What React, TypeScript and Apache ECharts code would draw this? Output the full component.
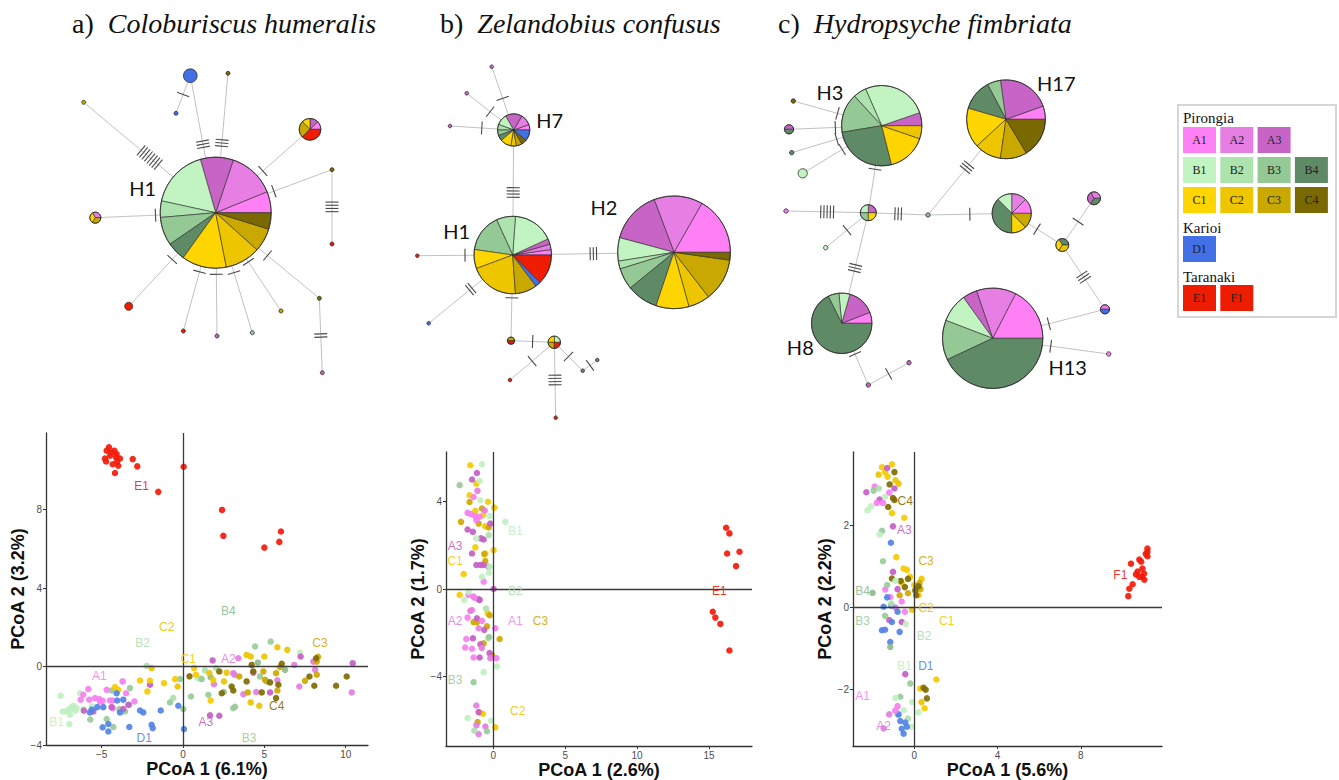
import React, { useEffect, useRef } from "react";
import * as echarts from "echarts";

type Pt = [number, number, string];
type Node = [string, number, number, Record<string, number>];
type Edge = [string, string, number];

// ---------------- populations ----------------
const POPS = ["A1", "A2", "A3", "B1", "B2", "B3", "B4", "C1", "C2", "C3", "C4", "D1", "E1", "F1"];
const POP_COLORS = ["#ff7ff5", "#e67ee4", "#c864c6", "#c2f4c2", "#ade3ad", "#94c894", "#5f8a66", "#ffd500", "#edc600", "#c9a800", "#7a6800", "#4470e6", "#ee1c00", "#ee1c00"];
const PCOA_COLORS = ["#f77ff0", "#e47de2", "#c45fc4", "#c0f0c0", "#aee0ae", "#9acb9a", "#8cbc8c", "#f7ca00", "#ecc300", "#cfa800", "#7f6c00", "#5283e6", "#f41a0a", "#f41a0a"];
const colorOf = (p: string) => POP_COLORS[POPS.indexOf(p)];
const pcoaColorOf = (p: string) => PCOA_COLORS[POPS.indexOf(p)];

const LEGEND_GROUPS = ["Pirongia", "Karioi", "Taranaki"];
const LEGEND_ROWS = [["A1", "A2", "A3"], ["B1", "B2", "B3", "B4"], ["C1", "C2", "C3", "C4"], ["D1"], ["E1", "F1"]];

// ---------------- panel texts ----------------
const PANEL_LETTERS = ["a)", "b)", "c)"];
const SPECIES = ["Coloburiscus humeralis", "Zelandobius confusus", "Hydropsyche fimbriata"];
const PCOA1 = ["PCoA 1 (6.1%)", "PCoA 1 (2.6%)", "PCoA 1 (5.6%)"];
const PCOA2 = ["PCoA 2 (3.2%)", "PCoA 2 (1.7%)", "PCoA 2 (2.2%)"];
const X_TICKS = [[-5, 0, 5, 10], [0, 5, 10, 15], [0, 4, 8]];
const Y_TICKS = [[-4, 0, 4, 8], [-4, 0, 4], [-2, 0, 2]];
const X_RANGE = [[-8.42, 11.37], [-3.29, 17.99], [-2.94, 11.9]];
const Y_RANGE = [[-4, 11.9], [-7.2, 6.28], [-3.37, 3.79]];

// ---------------- PCoA a) ----------------
const pcoaA: Pt[] = [
  [-4.55, 11.17, "E1"], [-4.69, 11.0, "E1"], [-4.22, 11.0, "E1"], [-4.08, 10.83, "E1"], [-4.8, 10.6, "E1"], [-4.49, 10.74, "E1"], [-4.12, 10.66, "E1"], [-3.87, 10.6, "E1"], [-4.73, 10.45, "E1"], [-4.32, 10.31, "E1"], [-3.98, 10.23, "E1"], [-4.18, 9.86, "E1"], [-3.09, 10.57, "E1"], [-2.81, 10.2, "E1"], [-1.52, 8.9, "E1"], [0.04, 10.18, "E1"], [2.4, 7.98, "E1"], [2.48, 6.66, "E1"], [5.0, 6.06, "E1"], [5.92, 6.35, "E1"], [6.02, 6.88, "E1"], [-4.4, 10.9, "E1"], [-4.05, 10.45, "E1"],
  [-7.52, -1.49, "B1"], [-7.05, -2.2, "B1"], [-7.19, -2.29, "B1"], [-6.84, -2.07, "B1"], [-6.74, -2.0, "B1"], [-6.54, -2.12, "B1"], [-6.95, -2.46, "B1"], [-6.33, -1.36, "B1"], [-6.13, -2.17, "B1"], [-6.99, -2.93, "B1"], [-5.61, -2.03, "B1"], [-7.4, -2.29, "B1"], [-6.9, -2.2, "B1"], [-6.6, -2.25, "B1"], [7.19, 0.71, "B1"], [0.9, -0.6, "B1"], [-3.7, -0.75, "B1"],
  [-2.23, 0.03, "B2"], [1.35, -0.2, "B2"], [2.03, -0.08, "B2"], [-0.6, -1.6, "B2"], [1.1, -0.62, "B2"],
  [-4.39, -1.22, "B3"], [-3.26, -1.1, "B3"], [-3.3, -1.95, "B3"], [-3.91, -2.17, "B3"], [-4.28, -3.08, "B3"], [-3.57, -2.29, "B3"], [-0.8, -1.83, "B3"], [0.02, -2.17, "B3"], [0.49, -1.53, "B3"], [-0.18, -0.64, "B3"], [4.43, 1.02, "B3"], [5.39, 1.27, "B3"], [1.15, -0.64, "B3"], [1.56, -1.44, "B3"], [4.73, -0.51, "B3"], [3.09, -2.12, "B3"], [-4.69, -2.68, "B3"], [-5.7, -2.7, "B3"], [3.2, -2.05, "B3"],
  [5.14, -0.76, "B4"], [6.27, -0.17, "B4"], [2.5, -1.3, "B4"], [1.7, -0.55, "B4"], [4.6, 0.2, "B4"],
  [-5.82, -1.15, "A1"], [-6.13, -1.44, "A1"], [-6.29, -1.69, "A1"], [-5.76, -1.69, "A1"], [-5.41, -1.61, "A1"], [-5.14, -1.66, "A1"], [-4.94, -1.75, "A1"], [-4.69, -1.19, "A1"], [-4.49, -1.73, "A1"], [-4.32, -1.73, "A1"], [-3.71, -0.76, "A1"], [-2.99, -1.78, "A1"], [-3.5, -1.36, "A1"], [-4.32, -2.12, "A1"], [-5.1, -1.78, "A1"],
  [3.4, 0.42, "A2"], [3.09, -0.34, "A2"], [3.17, -0.42, "A2"], [8.01, 0.25, "A2"], [6.84, 0.08, "A2"], [10.37, -1.32, "A2"], [7.15, -1.02, "A2"], [8.12, -0.17, "A2"], [3.71, -1.41, "A2"], [4.5, -1.3, "A2"], [5.8, -0.7, "A2"], [1.9, -0.9, "A2"],
  [-6.09, -2.25, "A3"], [-5.51, -2.29, "A3"], [-4.39, -2.07, "A3"], [-3.36, -1.95, "A3"], [-3.67, -2.17, "A3"], [-2.03, -0.93, "A3"], [1.66, -2.49, "A3"], [7.23, 0.51, "A3"], [10.43, 0.17, "A3"], [4.32, -0.31, "A3"], [5.35, -1.32, "A3"], [1.82, 0.31, "A3"], [2.23, -2.51, "A3"],
  [-4.18, -1.05, "C1"], [-3.98, -1.19, "C1"], [-2.64, -0.71, "C1"], [-2.03, -0.71, "C1"], [-2.19, -1.27, "C1"], [-1.17, -0.85, "C1"], [-0.49, -0.64, "C1"], [0.68, -0.08, "C1"], [0.8, -0.42, "C1"], [1.7, -1.73, "C1"], [1.86, -0.68, "C1"],
  [-0.33, -1.02, "C2"], [-1.93, -0.08, "C2"], [3.91, 0.59, "C2"], [4.16, 0.51, "C2"], [5.0, 0.51, "C2"], [5.8, 0.98, "C2"], [6.41, 0.85, "C2"], [1.62, -0.34, "C2"], [2.52, -0.76, "C2"], [2.68, -0.31, "C2"], [4.16, -1.83, "C2"], [4.69, -2.0, "C2"],
  [8.22, 0.25, "C3"], [3.46, -0.51, "C3"], [4.94, -0.25, "C3"], [5.04, -0.68, "C3"], [5.96, -0.03, "C3"], [5.72, -0.34, "C3"], [5.8, -1.22, "C3"], [8.22, -0.42, "C3"], [7.5, -0.73, "C3"], [3.98, -1.32, "C3"], [8.3, 0.5, "C3"],
  [4.22, 0.08, "C4"], [4.32, -0.25, "C4"], [2.99, -1.02, "C4"], [3.09, -1.22, "C4"], [3.91, -0.76, "C4"], [2.38, -1.36, "C4"], [4.84, -1.32, "C4"], [5.35, -0.81, "C4"], [6.07, 0.14, "C4"], [5.86, -0.93, "C4"], [5.72, -1.61, "C4"], [7.77, -0.51, "C4"], [8.07, -0.98, "C4"], [8.18, 0.42, "C4"], [9.41, -0.98, "C4"], [10.06, -0.51, "C4"], [2.23, -0.25, "C4"], [0.4, -0.5, "C4"],
  [-5.61, -2.2, "D1"], [-5.72, -2.34, "D1"], [-5.27, -2.07, "D1"], [-4.9, -2.07, "D1"], [-4.08, -1.36, "D1"], [-4.04, -1.73, "D1"], [-3.67, -1.69, "D1"], [-3.87, -2.34, "D1"], [-2.64, -2.24, "D1"], [-2.44, -2.34, "D1"], [-1.37, -2.24, "D1"], [-0.29, -2.0, "D1"], [-4.94, -3.1, "D1"], [-4.59, -2.93, "D1"], [-4.59, -3.31, "D1"], [-3.3, -3.08, "D1"], [-1.93, -2.97, "D1"], [-1.86, -3.14, "D1"], [0.06, -3.19, "D1"],
];
const labelsA: Pt[] = [
  [-2.54, 9.2, "E1"], [2.79, 2.83, "B4"], [-1.0, 2.0, "C2"], [-2.48, 1.2, "B2"], [0.33, 0.39, "C1"], [2.79, 0.39, "A2"], [8.42, 1.2, "C3"], [-5.14, -0.46, "A1"], [5.76, -2.03, "C4"], [1.41, -2.84, "A3"], [-7.77, -2.84, "B1"], [-2.38, -3.64, "D1"], [4.06, -3.64, "B3"],
];

// ---------------- PCoA b) ----------------
const pcoaB: Pt[] = [
  [16.19, 2.81, "E1"], [16.42, 2.55, "E1"], [16.26, 1.63, "E1"], [17.12, 1.71, "E1"], [16.88, 1.05, "E1"], [15.26, -1.04, "E1"], [15.44, -1.31, "E1"], [15.79, -1.6, "E1"], [16.42, -2.82, "E1"],
  [-1.6, 5.67, "C1"], [-1.65, 4.3, "C1"], [-1.18, 4.83, "C1"], [-0.37, 4.0, "C1"], [0.07, 3.73, "C1"], [-1.25, 3.58, "C1"], [-0.72, 3.38, "C1"], [-0.56, 2.88, "C1"], [0.02, 1.78, "C1"], [-0.56, 1.63, "C1"], [-1.25, 1.91, "C1"], [-2.06, 0.69, "C1"], [-2.34, -0.27, "C1"], [-0.39, -1.11, "C1"], [-0.95, -5.67, "C1"], [0.14, -6.34, "C1"], [-0.72, -5.72, "C1"],
  [-2.25, 3.08, "C3"], [-1.65, 3.99, "C3"], [-0.79, 3.69, "C3"], [-1.02, 3.0, "C3"], [-0.32, 2.82, "C3"], [-0.63, 1.6, "C3"], [-0.56, 1.28, "C3"], [-1.37, -1.52, "C3"], [-1.14, -1.52, "C3"], [-0.44, -1.71, "C3"], [-0.67, -2.49, "C3"], [-0.09, -3.02, "C3"], [0.44, -2.29, "C3"], [-1.09, -6.1, "C3"], [-0.25, -1.2, "C3"],
  [-1.14, 5.32, "A3"], [-1.48, 5.02, "A3"], [-0.21, 3.0, "A3"], [-1.79, 2.73, "A3"], [-1.42, 2.62, "A3"], [-0.86, 2.32, "A3"], [-0.67, 2.27, "A3"], [-1.18, 1.1, "A3"], [-0.9, 1.1, "A3"], [-0.67, 1.1, "A3"], [-1.48, 1.63, "A3"], [-0.32, 1.02, "A3"], [0.02, 0.0, "A3"], [-1.02, -0.47, "A3"], [-0.95, -0.5, "A3"], [-1.14, -1.34, "A3"], [-0.63, -1.87, "A3"], [-1.42, -2.26, "A3"], [-0.9, -2.53, "A3"], [-0.26, -2.94, "A3"], [-0.95, -3.14, "A3"], [-1.02, -5.64, "A3"],
  [-1.37, 4.22, "A1"], [-1.79, 3.49, "A1"], [-1.55, 3.43, "A1"], [-1.25, 3.34, "A1"], [-0.95, 3.31, "A1"], [-1.18, 3.16, "A1"], [-0.67, 0.34, "A1"], [-1.72, -0.27, "A1"], [-1.37, -0.35, "A1"], [0.14, -1.8, "A1"], [-1.32, -0.4, "A1"], [-1.48, -0.96, "A1"], [-1.79, -1.31, "A1"], [-0.79, -1.46, "A1"], [-1.88, -2.29, "A1"], [-1.95, -2.68, "A1"], [-1.48, -2.74, "A1"], [-1.37, -3.14, "A1"], [0.21, -3.17, "A1"],
  [-1.02, -1.8, "A2"], [-0.21, -3.17, "A2"], [-1.18, -5.34, "A2"], [-1.18, -6.25, "A2"], [-1.02, -6.65, "A2"], [-0.55, -6.3, "A2"], [-0.8, -2.7, "A2"], [-1.6, -1.0, "A2"], [-1.1, 4.5, "A2"], [-0.6, 3.6, "A2"],
  [-0.79, 5.72, "B1"], [-0.95, 4.95, "B1"], [-0.9, 4.07, "B1"], [-0.26, 3.34, "B1"], [0.84, 3.08, "B1"], [-1.18, 2.32, "B1"], [-0.26, 1.02, "B1"], [-0.32, 0.75, "B1"], [-0.79, 0.56, "B1"], [-1.72, -0.12, "B1"], [-2.02, -0.5, "B1"], [0.26, -3.55, "B1"], [-1.79, -5.91, "B1"], [-0.67, -3.81, "B1"], [-0.16, -6.04, "B1"],
  [-0.32, 2.47, "B2"], [-0.5, -0.9, "B2"], [-1.32, -6.49, "B2"], [-0.35, -2.25, "B2"],
  [-2.34, 4.76, "B3"], [-1.37, -4.27, "B3"], [-0.44, -6.52, "B3"], [-0.3, -2.2, "B3"],
];
const labelsB: Pt[] = [
  [1.53, 2.67, "B1"], [-2.65, 1.97, "A3"], [-2.65, 1.3, "C1"], [1.53, -0.09, "B2"], [15.72, -0.09, "E1"], [-2.65, -1.47, "A2"], [1.53, -1.47, "A1"], [3.28, -1.47, "C3"], [-2.65, -4.17, "B3"], [1.7, -5.57, "C2"],
];

// ---------------- PCoA c) ----------------
const pcoaC: Pt[] = [
  [10.41, 1.07, "F1"], [10.81, 1.17, "F1"], [10.9, 1.12, "F1"], [11.2, 1.44, "F1"], [11.2, 1.36, "F1"], [11.2, 1.25, "F1"], [10.96, 0.95, "F1"], [10.65, 0.81, "F1"], [10.81, 0.75, "F1"], [10.96, 0.75, "F1"], [11.04, 0.83, "F1"], [10.49, 0.57, "F1"], [10.33, 0.46, "F1"], [10.28, 0.28, "F1"], [11.12, 1.31, "F1"], [10.73, 0.88, "F1"], [11.05, 0.68, "F1"],
  [-1.55, 3.42, "C1"], [-1.07, 3.49, "C1"], [-1.28, 3.19, "C1"], [-0.75, 3.02, "C2"], [-1.07, 2.3, "C1"], [-0.48, 2.19, "C1"], [-1.71, 3.24, "C2"], [-1.4, 3.3, "C1"], [-0.9, 3.1, "C2"],
  [-1.18, 3.0, "C4"], [-1.02, 2.67, "C4"], [-0.95, 2.62, "C4"], [-1.25, 2.45, "C4"], [-0.95, 3.3, "C4"],
  [-2.3, 2.81, "A3"], [-1.66, 2.63, "A3"], [-1.02, 1.98, "A3"], [-1.3, 3.4, "A3"], [-0.95, 2.9, "A3"],
  [-1.9, 2.95, "A1"], [-1.5, 2.55, "A1"], [-1.8, 2.55, "A1"], [-1.2, 2.8, "A1"],
  [-1.95, 2.85, "B3"], [-2.08, 2.47, "B1"], [-2.24, 2.37, "B1"], [-1.55, 1.87, "B3"], [-1.66, 1.78, "B1"], [-1.7, 2.9, "B2"], [-1.4, 2.7, "B1"],
  [-1.12, 1.58, "D1"],
  [-0.86, 1.23, "C1"], [-0.51, 0.95, "C1"], [-0.35, 0.92, "C1"], [0.21, 0.3, "C1"], [-0.2, 0.75, "C1"], [0.0, 0.55, "C1"], [-0.6, 0.6, "C1"], [0.35, 0.7, "C2"], [-0.1, -0.05, "C2"],
  [0.1, 0.52, "C3"], [-0.3, 0.35, "C3"], [0.25, 0.6, "C3"], [-0.7, 0.3, "C3"], [0.3, 0.45, "C3"],
  [0.21, 0.52, "C4"], [-1.07, 0.71, "C4"], [-0.65, 0.65, "C4"], [-0.3, 0.7, "C4"], [0.05, 0.42, "C4"], [-0.45, 0.5, "C4"], [0.1, 0.3, "C4"],
  [-1.02, 0.87, "A3"], [-1.39, 0.44, "A1"], [-1.15, 0.26, "A1"], [-0.8, 0.45, "A3"], [-0.6, 0.15, "A1"], [-0.9, 0.0, "A2"], [-1.2, -0.3, "A3"], [-0.45, -0.1, "A1"], [-0.6, -0.35, "A3"],
  [-1.47, 0.02, "D1"], [-1.1, 0.05, "D1"], [-1.55, -0.55, "D1"], [-1.4, -0.54, "D1"], [-1.07, -0.35, "D1"], [-0.7, -0.59, "D1"], [-1.15, -0.84, "D1"], [-1.3, 0.25, "D1"], [-0.8, -0.1, "D1"],
  [-1.5, 1.13, "B3"], [-2.0, 0.36, "B4"], [-1.15, -0.96, "B4"], [-1.4, -0.2, "B3"], [-0.9, 0.65, "B1"], [-1.1, 0.1, "B2"], [-0.4, -0.4, "B1"], [-1.3, 0.55, "B3"],
  [-0.43, -1.62, "A3"],
  [1.06, -1.75, "C1"], [0.29, -1.97, "C1"], [0.5, -2.45, "C1"], [0.35, -2.3, "C2"],
  [0.45, -1.95, "C4"], [0.61, -2.21, "C4"], [0.55, -2.0, "C4"],
  [-0.19, -1.85, "B3"], [-0.67, -2.17, "B3"], [-0.9, -2.2, "B1"], [-0.5, -2.5, "B1"], [-0.3, -2.7, "B2"], [-0.1, -2.3, "B1"], [0.2, -2.55, "B1"], [-0.8, -2.6, "B2"], [-0.15, -2.9, "B1"],
  [-0.67, -2.76, "D1"], [-0.43, -2.8, "D1"], [-0.51, -3.07, "D1"], [-0.35, -2.9, "D1"], [-0.6, -2.95, "D1"], [-0.75, -2.6, "D1"],
  [-0.91, -2.51, "A1"], [-1.47, -2.94, "A2"], [-1.2, -2.6, "A2"], [-0.8, -2.4, "A1"],
];
const labelsC: Pt[] = [
  [-0.43, 2.59, "C4"], [-0.48, 1.88, "A3"], [0.57, 1.14, "C3"], [-2.48, 0.41, "B4"], [0.57, 0.0, "C2"], [-2.48, -0.32, "B3"], [1.56, -0.32, "C1"], [0.48, -0.69, "B2"], [-0.48, -1.43, "B1"], [0.56, -1.43, "D1"], [-2.48, -2.15, "A1"], [-1.47, -2.88, "A2"], [9.9, 0.79, "F1"],
];

// ---------------- haplotype networks (layout units) ----------------
const netANodes: Node[] = [
  ["aH1", 215.7, 212.7, { A1: 9, A2: 20, A3: 14, B1: 25, B2: 7, B3: 12, B4: 8, C1: 19, C2: 15, C3: 10, C4: 7 }],
  ["a2", 190.3, 75.7, { D1: 4 }],
  ["a3", 176.0, 113.3, { D1: 1 }],
  ["a4", 228.0, 73.3, { C4: 1 }],
  ["a5", 83.7, 102.3, { C3: 1 }],
  ["a6", 310.0, 129.3, { A1: 1, A3: 1, C1: 1, C3: 2, E1: 3 }],
  ["a7", 332.0, 169.7, { C4: 1 }],
  ["a8", 332.0, 244.0, { E1: 1 }],
  ["a9", 95.3, 217.7, { A2: 1, C1: 1, C3: 1 }],
  ["a10", 128.7, 306.3, { E1: 2 }],
  ["a11", 183.3, 331.0, { E1: 1 }],
  ["a12", 217.0, 336.0, { A3: 1 }],
  ["a13", 252.3, 332.7, { B3: 1 }],
  ["a14", 281.0, 311.0, { C3: 1 }],
  ["a15", 319.3, 298.3, { C4: 1 }],
  ["a16", 322.3, 372.7, { A3: 1 }],
];
const netAEdges: Edge[] = [
  ["aH1", "a2", 3], ["aH1", "a4", 3], ["a2", "a3", 1], ["aH1", "a5", 8], ["aH1", "a6", 1], ["aH1", "a7", 1], ["a7", "a8", 4], ["aH1", "a9", 1], ["aH1", "a10", 1], ["aH1", "a11", 1], ["aH1", "a12", 1], ["aH1", "a13", 1], ["aH1", "a14", 1], ["aH1", "a15", 1], ["a15", "a16", 2],
];

const netBNodes: Node[] = [
  ["bH7", 513.7, 130.0, { A1: 1, A2: 2, A3: 3, B1: 2, B2: 1, B3: 1, B4: 1, C1: 2, C2: 1, C3: 1, C4: 1, D1: 2 }],
  ["bH1", 512.7, 255.0, { A1: 2, A2: 2, A3: 2, B1: 15, B2: 7, B3: 14, C1: 7, C2: 18, C3: 8, D1: 2, E1: 11 }],
  ["bH2", 674.0, 252.3, { A1: 30, A2: 25, A3: 27, B1: 12, B2: 4, B3: 11, B4: 16, C1: 17, C2: 11, C3: 22, C4: 4 }],
  ["b4", 491.7, 66.7, { A3: 1 }],
  ["b5", 466.7, 93.3, { A3: 1 }],
  ["b6", 450.0, 126.0, { A3: 1 }],
  ["b7", 417.3, 255.7, { E1: 1 }],
  ["b8", 428.7, 323.3, { D1: 1 }],
  ["b9", 511.0, 340.7, { C3: 1, E1: 1 }],
  ["b10", 554.3, 342.3, { B1: 1, C1: 1, C3: 1, E1: 1 }],
  ["b11", 510.0, 380.0, { E1: 1 }],
  ["b12", 555.7, 417.7, { E1: 1 }],
  ["b13", 582.7, 370.7, { B4: 1 }],
  ["b14", 597.3, 360.0, { B4: 1 }],
];
const netBEdges: Edge[] = [
  ["bH7", "bH1", 4], ["bH1", "bH2", 3], ["bH7", "b4", 1], ["bH7", "b5", 1], ["bH7", "b6", 1], ["bH1", "b7", 1], ["bH1", "b8", 2], ["bH1", "b9", 1], ["b9", "b10", 1], ["b10", "b11", 1], ["b10", "b12", 4], ["b10", "b13", 1], ["b13", "b14", 1],
];

const netCNodes: Node[] = [
  ["cH3", 881.7, 125.7, { A3: 3, B1: 15, B2: 3, B3: 9, B4: 15, C1: 9, C2: 3 }],
  ["cH17", 1006.0, 119.3, { A1: 3, A3: 12, B3: 3, B4: 7, C1: 9, C2: 6, C3: 6, C4: 9 }],
  ["cH8", 841.7, 323.3, { A1: 2, A3: 5, B1: 2, B3: 2, B4: 23 }],
  ["cH13", 992.7, 338.3, { A1: 15, A2: 11, A3: 4, B1: 8, B3: 11, B4: 37 }],
  ["c5", 868.3, 212.7, { A3: 1, B1: 1, B3: 1, C1: 1 }],
  ["c6", 1011.7, 213.3, { A1: 2, A2: 2, B1: 2, B4: 6, C1: 2, C3: 2 }],
  ["c7", 1094.0, 198.3, { A2: 1, A3: 1, B4: 1 }],
  ["c8", 1062.3, 245.0, { B4: 1, C1: 1, C2: 1 }],
  ["c9", 1105.0, 309.3, { A2: 1, D1: 1 }],
  ["c10", 793.3, 101.0, { C4: 1 }],
  ["c11", 789.0, 129.3, { A3: 1, B4: 1 }],
  ["c12", 791.7, 152.7, { B4: 1 }],
  ["c13", 802.7, 173.3, { B1: 2 }],
  ["c14", 786.0, 211.0, { A1: 1 }],
  ["c15", 825.7, 247.7, { B1: 1 }],
  ["c16", 928.0, 215.0, { B3: 1 }],
  ["c17", 1108.7, 354.0, { A1: 1 }],
  ["c18", 909.0, 362.7, { A3: 1 }],
  ["c19", 868.3, 385.0, { A3: 1 }],
];
const netCEdges: Edge[] = [
  ["cH3", "c10", 1], ["cH3", "c11", 1], ["cH3", "c12", 1], ["cH3", "c13", 1], ["cH3", "c5", 1], ["c5", "c14", 5], ["c5", "c15", 1], ["c5", "cH8", 3], ["c5", "c16", 3], ["c16", "cH17", 3], ["c16", "c6", 1], ["c6", "c8", 1], ["c8", "c7", 1], ["c8", "c9", 3], ["c9", "cH13", 1], ["cH13", "c17", 1], ["cH8", "c19", 1], ["c19", "c18", 1],
];

const netLabels: [string, number, number][] = [
  ["H1", 142.7, 188.3], ["H7", 549.7, 120.0], ["H1", 456.7, 230.7], ["H2", 604.0, 207.3], ["H3", 830.0, 92.3], ["H17", 1056.3, 83.3], ["H8", 800.3, 346.7], ["H13", 1067.7, 367.3],
];

// ---------------- styles ----------------
const SCATTER_GRIDS = [
  { left: 46, top: 433, width: 322, height: 312 },
  { left: 446, top: 452, width: 306, height: 295 },
  { left: 853, top: 452, width: 309, height: 294 },
];
const TITLE_POS = [72, 440, 778];
const NET_STYLE = [
  { rMin: 2, k: 4.83 },
  { rMin: 1.8, k: 4.41 },
  { rMin: 2.2, k: 5.8 },
];
const SANS = "Liberation Sans, Arial, sans-serif";
const SERIF = "Liberation Serif, Times New Roman, serif";

const fmtTick = (v: number) => (v < 0 ? "\u2212" + Math.abs(v) : String(v));

function buildOption() {
  const grids: any[] = SCATTER_GRIDS.map((g) => ({ ...g, containLabel: false }));
  grids.push({ left: 0, top: 0, width: 1339, height: 780, containLabel: false });

  const xAxes: any[] = [0, 1, 2].map((i) => ({
    gridIndex: i,
    type: "value",
    min: X_RANGE[i][0],
    max: X_RANGE[i][1],
    axisLine: { show: true, onZero: false, lineStyle: { color: "#333", width: 1.3 } },
    axisTick: { show: true, length: 3, customValues: X_TICKS[i], lineStyle: { color: "#333" } },
    axisLabel: { customValues: X_TICKS[i], formatter: fmtTick, color: "#4d4d4d", fontSize: 10, margin: 4, fontFamily: SANS },
    splitLine: { show: false },
    name: PCOA1[i],
    nameLocation: "middle",
    nameGap: 13,
    nameTextStyle: { fontSize: 18, fontWeight: "bold", color: "#111", fontFamily: SANS, verticalAlign: "top" },
  }));
  xAxes.push({ gridIndex: 3, type: "value", min: 0, max: 1339, show: false });

  const yAxes: any[] = [0, 1, 2].map((i) => ({
    gridIndex: i,
    type: "value",
    min: Y_RANGE[i][0],
    max: Y_RANGE[i][1],
    axisLine: { show: true, onZero: false, lineStyle: { color: "#333", width: 1.3 } },
    axisTick: { show: true, length: 3, customValues: Y_TICKS[i], lineStyle: { color: "#333" } },
    axisLabel: { customValues: Y_TICKS[i], formatter: fmtTick, color: "#4d4d4d", fontSize: 10, margin: 4, fontFamily: SANS },
    splitLine: { show: false },
    name: PCOA2[i],
    nameLocation: "middle",
    nameGap: 18,
    nameTextStyle: { fontSize: 18, fontWeight: "bold", color: "#111", fontFamily: SANS },
  }));
  yAxes.push({ gridIndex: 3, type: "value", min: 0, max: 780, inverse: true, show: false });

  const series: any[] = [];
  const plots = [pcoaA, pcoaB, pcoaC];
  const plotLabels = [labelsA, labelsB, labelsC];
  plots.forEach((pts, i) => {
    series.push({
      type: "scatter",
      xAxisIndex: i,
      yAxisIndex: i,
      symbolSize: 6.5,
      z: 3,
      data: pts.map(([x, y, g]) => ({ value: [x, y], itemStyle: { color: pcoaColorOf(g), opacity: 0.92 } })),
      markLine: {
        silent: true,
        symbol: ["none", "none"],
        label: { show: false },
        lineStyle: { color: "#3a3a3a", width: 1.3, type: "solid" },
        data: [{ xAxis: 0 }, { yAxis: 0 }],
      },
    });
    const labs = plotLabels[i];
    series.push({
      type: "custom",
      xAxisIndex: i,
      yAxisIndex: i,
      z: 5,
      data: labs.map(([x, y]) => [x, y]),
      renderItem: (params: any, api: any) => {
        const p = api.coord([api.value(0), api.value(1)]);
        const g = labs[params.dataIndex][2];
        return {
          type: "text",
          x: p[0],
          y: p[1],
          style: { text: g, fill: pcoaColorOf(g), opacity: 0.9, fontSize: 12, fontFamily: SANS, align: "center", verticalAlign: "middle" },
        };
      },
    });
  });

  const networks = [
    { nodes: netANodes, edges: netAEdges, st: NET_STYLE[0] },
    { nodes: netBNodes, edges: netBEdges, st: NET_STYLE[1] },
    { nodes: netCNodes, edges: netCEdges, st: NET_STYLE[2] },
  ];
  networks.forEach((net) => {
    const byId: Record<string, Node> = {};
    net.nodes.forEach((n) => (byId[n[0]] = n));
    series.push({
      type: "custom",
      xAxisIndex: 3,
      yAxisIndex: 3,
      z: 6,
      silent: true,
      encode: { x: [0, 2], y: [1, 3] },
      data: net.edges.map(([f, t, m]) => [byId[f][1], byId[f][2], byId[t][1], byId[t][2], m]),
      renderItem: (params: any, api: any) => {
        const a = api.coord([api.value(0), api.value(1)]);
        const b = api.coord([api.value(2), api.value(3)]);
        const m = api.value(4);
        const dx = b[0] - a[0];
        const dy = b[1] - a[1];
        const L = Math.hypot(dx, dy) || 1;
        const ux = dx / L, uy = dy / L;
        const px = -uy, py = ux;
        const mx = (a[0] + b[0]) / 2, my = (a[1] + b[1]) / 2;
        const children: any[] = [
          { type: "line", shape: { x1: a[0], y1: a[1], x2: b[0], y2: b[1] }, style: { stroke: "#c2c2c2", lineWidth: 1 } },
        ];
        for (let i = 0; i < m; i++) {
          const s = (i - (m - 1) / 2) * 3.2;
          const cx = mx + ux * s, cy = my + uy * s;
          children.push({
            type: "line",
            shape: { x1: cx - px * 6.5, y1: cy - py * 6.5, x2: cx + px * 6.5, y2: cy + py * 6.5 },
            style: { stroke: "#4a4a4a", lineWidth: 1.1 },
          });
        }
        return { type: "group", children };
      },
    });
    series.push({
      type: "custom",
      xAxisIndex: 3,
      yAxisIndex: 3,
      z: 7,
      silent: true,
      data: net.nodes.map((n) => [n[1], n[2]]),
      renderItem: (params: any, api: any) => {
        const node = net.nodes[params.dataIndex];
        const counts = node[3];
        const c = api.coord([api.value(0), api.value(1)]);
        const unit = api.size([1, 1])[0];
        const entries = POPS.filter((p) => counts[p]).map((p) => [p, counts[p]] as [string, number]);
        const total = entries.reduce((s, e) => s + e[1], 0);
        const r = (net.st.rMin + net.st.k * (Math.sqrt(total) - 1)) * unit;
        const children: any[] = [];
        if (entries.length === 1) {
          children.push({ type: "circle", shape: { cx: c[0], cy: c[1], r }, style: { fill: colorOf(entries[0][0]), stroke: "#2a2a2a", lineWidth: 0.8 } });
        } else {
          let acc = 0;
          entries.forEach(([p, v]) => {
            const a1 = (acc / total) * Math.PI * 2;
            acc += v;
            const a2 = (acc / total) * Math.PI * 2;
            children.push({
              type: "sector",
              shape: { cx: c[0], cy: c[1], r, r0: 0, startAngle: -a2, endAngle: -a1, clockwise: true },
              style: { fill: colorOf(p), stroke: "#2a2a2a", lineWidth: 0.6 },
            });
          });
          children.push({ type: "circle", shape: { cx: c[0], cy: c[1], r }, style: { fill: "none", stroke: "#2a2a2a", lineWidth: 0.8 } });
        }
        return { type: "group", children };
      },
    });
  });
  series.push({
    type: "custom",
    xAxisIndex: 3,
    yAxisIndex: 3,
    z: 8,
    silent: true,
    data: netLabels.map((l) => [l[1], l[2]]),
    renderItem: (params: any, api: any) => {
      const p = api.coord([api.value(0), api.value(1)]);
      return {
        type: "text",
        x: p[0],
        y: p[1],
        style: { text: netLabels[params.dataIndex][0], fill: "#111", fontSize: 20, fontFamily: "Lato, Open Sans, sans-serif", align: "center", verticalAlign: "middle" },
      };
    },
  });

  // legend box
  const graphic: any[] = [];
  const LX = 1183, COL = 37.3, SW = 33, SH = 26;
  const rowTops = [127, 157, 187, 236, 285];
  const headY = [118, 228, 277];
  graphic.push({ type: "rect", shape: { x: 1178, y: 105, width: 158, height: 212 }, style: { fill: "#fff", stroke: "#d6d6d6", lineWidth: 2 }, z: 10 });
  LEGEND_GROUPS.forEach((g, i) => {
    graphic.push({ type: "text", x: LX, y: headY[i], z: 11, style: { text: g, fill: "#111", fontSize: 15, fontFamily: SERIF, align: "left", verticalAlign: "middle" } });
  });
  LEGEND_ROWS.forEach((row, ri) => {
    row.forEach((p, ci) => {
      const x = LX + ci * COL;
      const y = rowTops[ri];
      graphic.push({ type: "rect", z: 11, shape: { x, y, width: SW, height: SH }, style: { fill: colorOf(p) } });
      graphic.push({ type: "text", z: 12, x: x + SW / 2, y: y + SH / 2, style: { text: p, fill: "#222", fontSize: 12, fontFamily: SERIF, align: "center", verticalAlign: "middle" } });
    });
  });

  const title = [0, 1, 2].map((i) => ({
    left: TITLE_POS[i],
    top: 9,
    padding: 0,
    text: PANEL_LETTERS[i] + "  {i|" + SPECIES[i] + "}",
    textStyle: {
      fontFamily: SERIF,
      fontSize: 28,
      fontWeight: "normal",
      color: "#111",
      rich: { i: { fontFamily: SERIF, fontSize: 28, fontStyle: "italic", color: "#111" } },
    },
  }));

  return {
    animation: false,
    backgroundColor: "#ffffff",
    title,
    grid: grids,
    xAxis: xAxes,
    yAxis: yAxes,
    series,
    graphic,
  };
}

export default function App() {
  const ref = useRef<HTMLDivElement>(null);
  useEffect(() => {
    if (!ref.current) return;
    const chart = echarts.init(ref.current, undefined, { renderer: "svg" });
    chart.setOption(buildOption() as any);
    return () => chart.dispose();
  }, []);
  return <div ref={ref} style={{ position: "absolute", left: 0, top: 0, width: 1339, height: 780 }} />;
}
